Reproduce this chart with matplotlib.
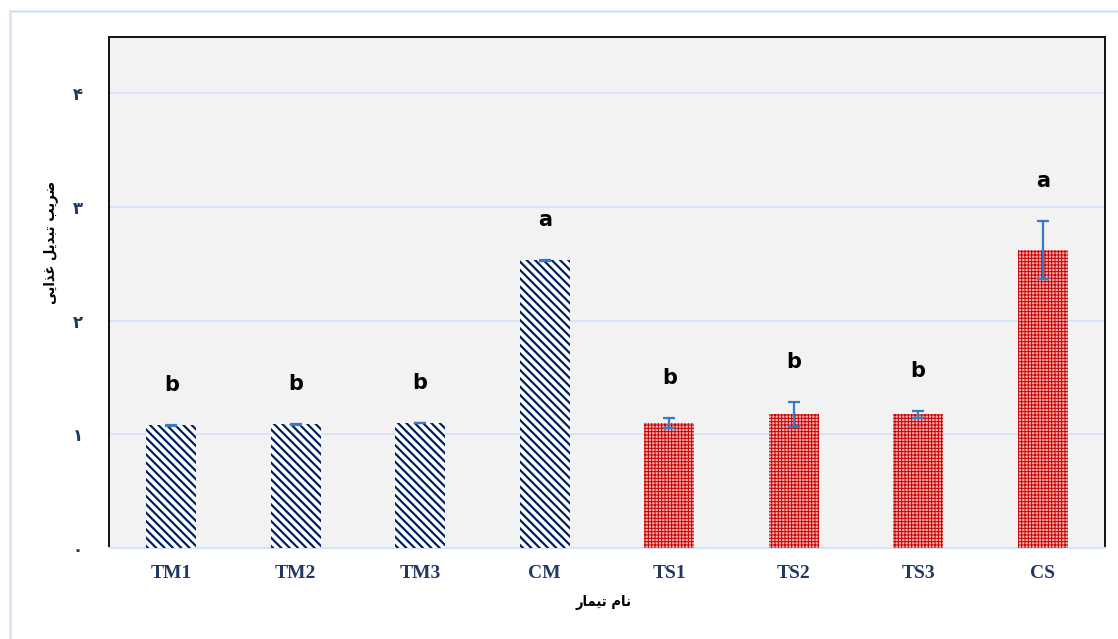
import matplotlib
matplotlib.use("Agg")
import matplotlib.pyplot as plt
from matplotlib.lines import Line2D
import numpy as np

# ---------------- data ----------------
categories = ["TM1", "TM2", "TM3", "CM", "TS1", "TS2", "TS3", "CS"]
values = [1.08, 1.09, 1.10, 2.53, 1.10, 1.175, 1.175, 2.62]
errors = [0.004, 0.004, 0.004, 0.004, 0.044, 0.107, 0.029, 0.257]
letters = ["b", "b", "b", "a", "b", "b", "b", "a"]
groups = ["M", "M", "M", "M", "S", "S", "S", "S"]
ytick_vals = [0, 1, 2, 3, 4]
ytick_labels = ["۰", "۱", "۲", "۳", "۴"]
ylabel = "ضریب تبدیل غذایی"
xlabel = "نام تیمار"

# ------------- minimal Arabic-script shaping (presentation forms) -------------
FORMS = {  # isolated, final, initial, medial
    "ا": ("\uFE8D", "\uFE8E", None, None),
    "ب": ("\uFE8F", "\uFE90", "\uFE91", "\uFE92"),
    "ت": ("\uFE95", "\uFE96", "\uFE97", "\uFE98"),
    "د": ("\uFEA9", "\uFEAA", None, None),
    "ذ": ("\uFEAB", "\uFEAC", None, None),
    "ر": ("\uFEAD", "\uFEAE", None, None),
    "ض": ("\uFEBD", "\uFEBE", "\uFEBF", "\uFEC0"),
    "غ": ("\uFECD", "\uFECE", "\uFECF", "\uFED0"),
    "ل": ("\uFEDD", "\uFEDE", "\uFEDF", "\uFEE0"),
    "م": ("\uFEE1", "\uFEE2", "\uFEE3", "\uFEE4"),
    "ن": ("\uFEE5", "\uFEE6", "\uFEE7", "\uFEE8"),
    "ی": ("\uFBFC", "\uFBFD", "\uFBFE", "\uFBFF"),
}


def shape(text):
    out = []
    n = len(text)
    for i, ch in enumerate(text):
        if ch not in FORMS:
            out.append(ch)
            continue
        iso, fin, ini, med = FORMS[ch]
        prev = text[i - 1] if i > 0 else None
        nxt = text[i + 1] if i < n - 1 else None
        pj = prev in FORMS and FORMS[prev][2] is not None
        nj = nxt in FORMS and ini is not None
        if pj and nj:
            out.append(med)
        elif pj:
            out.append(fin)
        elif nj:
            out.append(ini)
        else:
            out.append(iso)
    return "".join(out)[::-1]


# ---------------- figure ----------------
W, H = 1118, 639
fig = plt.figure(figsize=(W / 100, H / 100), dpi=100)
fig.patch.set_facecolor("white")

L, R, T, B = 109, 1105, 36.5, 548
ax = fig.add_axes([L / W, 1 - B / H, (R - L) / W, (B - T) / H])
ax.set_facecolor("#F2F2F2")

x = np.arange(len(categories))
navy = "#002060"
red = "#C80000"
for xi, v, g in zip(x, values, groups):
    if g == "M":
        plt.rcParams["hatch.linewidth"] = 1.6
        ax.bar(xi, v, width=0.4, color="white", edgecolor=navy, hatch="\\\\\\\\",
               linewidth=0, zorder=3)
    else:
        plt.rcParams["hatch.linewidth"] = 0.7
        ax.bar(xi, v, width=0.4, color="#F4B0B0", edgecolor=red, hatch="+++++",
               linewidth=0, zorder=3)

ax.errorbar(x, values, yerr=errors, fmt="none", ecolor="#3A78C9",
            elinewidth=1.6, capsize=4, capthick=1.6, zorder=4)

for xi, v, e, t in zip(x, values, errors, letters):
    ax.text(xi, v + e + 0.35, t, ha="center", va="center", fontsize=15,
            fontweight="bold", color="black", family="DejaVu Sans")

ax.set_xlim(-0.5, 7.5)
ax.set_ylim(0, 4.5)
ax.set_yticks(ytick_vals)
ax.set_yticklabels(ytick_labels, fontsize=12, fontweight="bold", color="#1F3864",
                   family="DejaVu Sans")
ax.set_xticks(x)
ax.set_xticklabels(categories, fontsize=14, fontweight="bold", color="#1F3864",
                   family="Liberation Serif")
ax.tick_params(axis="both", length=0)
ax.tick_params(axis="y", pad=19)
ax.tick_params(axis="x", pad=12)

ax.grid(axis="y", color="#D6E3F5", linewidth=1.3, zorder=0)
ax.set_axisbelow(True)
for s in ["left", "top", "right"]:
    ax.spines[s].set_color("#111111")
    ax.spines[s].set_linewidth(1.4)
ax.spines["bottom"].set_color("#D6E3F5")
ax.spines["bottom"].set_linewidth(1.5)

fig.text(50 / W, 1 - 242 / H, shape(ylabel), rotation=90, ha="center", va="center",
         fontsize=10.5, fontweight="bold", color="black", family="DejaVu Sans",
         fontstretch="condensed")
fig.text(604 / W, 1 - 603 / H, shape(xlabel), ha="center", va="center",
         fontsize=10.5, fontweight="bold", color="black", family="DejaVu Sans",
         fontstretch="condensed")

# outer light-blue frame
fig.add_artist(Line2D([10 / W, 1], [1 - 11 / H, 1 - 11 / H], transform=fig.transFigure,
                      color="#D6E3F5", linewidth=1.8))
fig.add_artist(Line2D([10 / W, 10 / W], [0, 1 - 11 / H], transform=fig.transFigure,
                      color="#D6E3F5", linewidth=1.8))

fig.savefig("out.png", dpi=100)
